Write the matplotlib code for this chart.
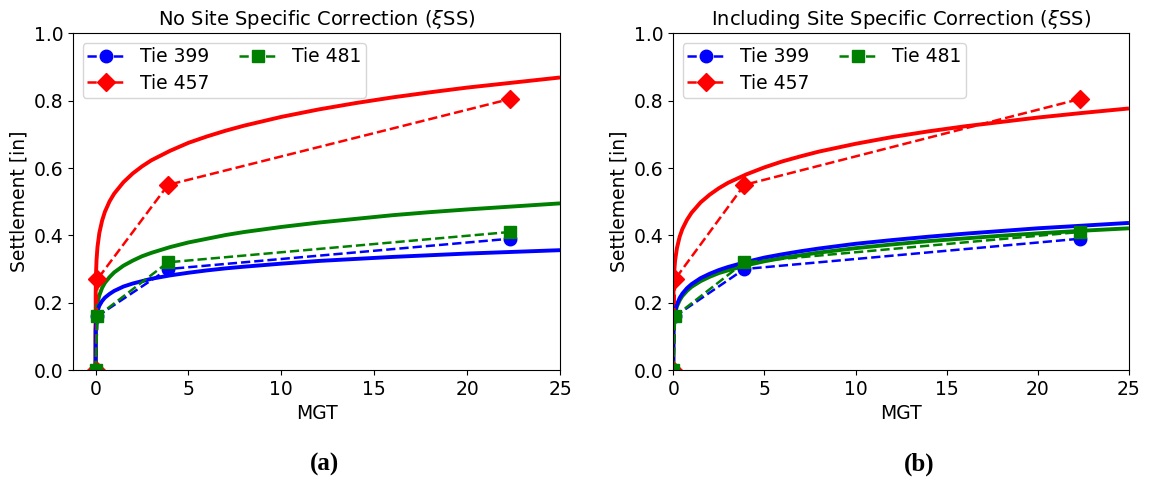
import matplotlib
matplotlib.use("Agg")
import matplotlib.pyplot as plt

# Measured settlement (dashed lines with markers)
mgt_obs = [0.0, 0.1, 3.9, 22.3]
obs_399 = [0.0, 0.16, 0.30, 0.39]
obs_457 = [0.0, 0.27, 0.55, 0.805]
obs_481 = [0.0, 0.16, 0.32, 0.41]

# Predicted settlement curves (solid lines)
mgt_pred = [0.0, 0.005, 0.02, 0.05, 0.1, 0.2, 0.35, 0.5, 0.75, 1.0, 1.5, 2.0, 2.5,
            3.0, 4.0, 5.0, 6.0, 7.0, 8.0, 10.0, 12.0, 14.0, 16.0, 18.0, 20.0, 22.5, 25.0]

# (a) no site specific correction
pred_a_399 = [0.0, 0.119, 0.142, 0.160, 0.175, 0.191, 0.205, 0.215, 0.226, 0.235, 0.248, 0.257, 0.264,
              0.271, 0.281, 0.289, 0.296, 0.302, 0.307, 0.316, 0.324, 0.330, 0.336, 0.341, 0.346, 0.351, 0.356]
pred_a_457 = [0.0, 0.228, 0.284, 0.327, 0.365, 0.407, 0.444, 0.470, 0.501, 0.524, 0.558, 0.584, 0.605,
              0.623, 0.651, 0.675, 0.694, 0.711, 0.726, 0.752, 0.774, 0.793, 0.810, 0.825, 0.839, 0.854, 0.869]
pred_a_481 = [0.0, 0.120, 0.151, 0.176, 0.198, 0.222, 0.244, 0.259, 0.276, 0.290, 0.310, 0.325, 0.338,
              0.348, 0.365, 0.379, 0.390, 0.401, 0.410, 0.425, 0.438, 0.449, 0.460, 0.469, 0.477, 0.486, 0.495]

# (b) including site specific correction
pred_b_399 = [0.0, 0.105, 0.133, 0.155, 0.174, 0.195, 0.214, 0.227, 0.243, 0.255, 0.273, 0.286, 0.297,
              0.306, 0.321, 0.334, 0.344, 0.353, 0.361, 0.375, 0.386, 0.396, 0.405, 0.413, 0.421, 0.429, 0.437]
pred_b_457 = [0.0, 0.202, 0.252, 0.291, 0.325, 0.362, 0.396, 0.419, 0.446, 0.467, 0.498, 0.521, 0.540,
              0.556, 0.581, 0.602, 0.620, 0.635, 0.649, 0.672, 0.692, 0.709, 0.724, 0.737, 0.750, 0.764, 0.777]
pred_b_481 = [0.0, 0.103, 0.129, 0.150, 0.169, 0.189, 0.207, 0.220, 0.235, 0.247, 0.264, 0.277, 0.288,
              0.296, 0.311, 0.323, 0.333, 0.341, 0.349, 0.362, 0.373, 0.383, 0.391, 0.399, 0.406, 0.414, 0.421]

titles = [r"No Site Specific Correction ($\xi$SS)", r"Including Site Specific Correction ($\xi$SS)"]
panel_tags = ["(a)", "(b)"]
xticks = [0, 5, 10, 15, 20, 25]
yticks = [0.0, 0.2, 0.4, 0.6, 0.8, 1.0]

fig = plt.figure(figsize=(11.75, 4.84), dpi=100)
ax_a = fig.add_axes([0.0624, 0.2355, 0.4142, 0.6955])
ax_b = fig.add_axes([0.5730, 0.2355, 0.3878, 0.6955])

panels = [
    (ax_a, pred_a_399, pred_a_457, pred_a_481, (-1.2, 25)),
    (ax_b, pred_b_399, pred_b_457, pred_b_481, (0, 25)),
]

for i, (ax, p399, p457, p481, xlim) in enumerate(panels):
    ax.plot(mgt_pred, p457, color="red", lw=2.8, solid_capstyle="butt")
    ax.plot(mgt_pred, p481, color="green", lw=2.8, solid_capstyle="butt")
    ax.plot(mgt_pred, p399, color="blue", lw=2.8, solid_capstyle="butt")

    ax.plot(mgt_obs, obs_399, "--", color="blue", marker="o", ms=9, lw=1.8, label="Tie 399")
    ax.plot(mgt_obs, obs_457, "--", color="red", marker="D", ms=9.5, lw=1.8, label="Tie 457")
    ax.plot(mgt_obs, obs_481, "--", color="green", marker="s", ms=9, lw=1.8, label="Tie 481")

    ax.set_xlim(*xlim)
    ax.set_ylim(0, 1.0)
    ax.set_xticks(xticks)
    ax.set_yticks(yticks)
    ax.tick_params(labelsize=13.5)
    ax.set_xlabel("MGT", fontsize=13.5)
    ax.set_ylabel("Settlement [in]", fontsize=13.5)
    ax.set_title(titles[i], fontsize=14)
    ax.legend(loc="upper left", ncol=2, fontsize=13.5, handlelength=2.0,
              columnspacing=1.6, borderpad=0.25, labelspacing=0.4)

fig.text(0.2765, 0.04, panel_tags[0], ha="center", va="center",
         fontsize=18, fontweight="bold", family="Liberation Serif")
fig.text(0.7820, 0.04, panel_tags[1], ha="center", va="center",
         fontsize=18, fontweight="bold", family="Liberation Serif")

fig.savefig("out.png", dpi=100)
